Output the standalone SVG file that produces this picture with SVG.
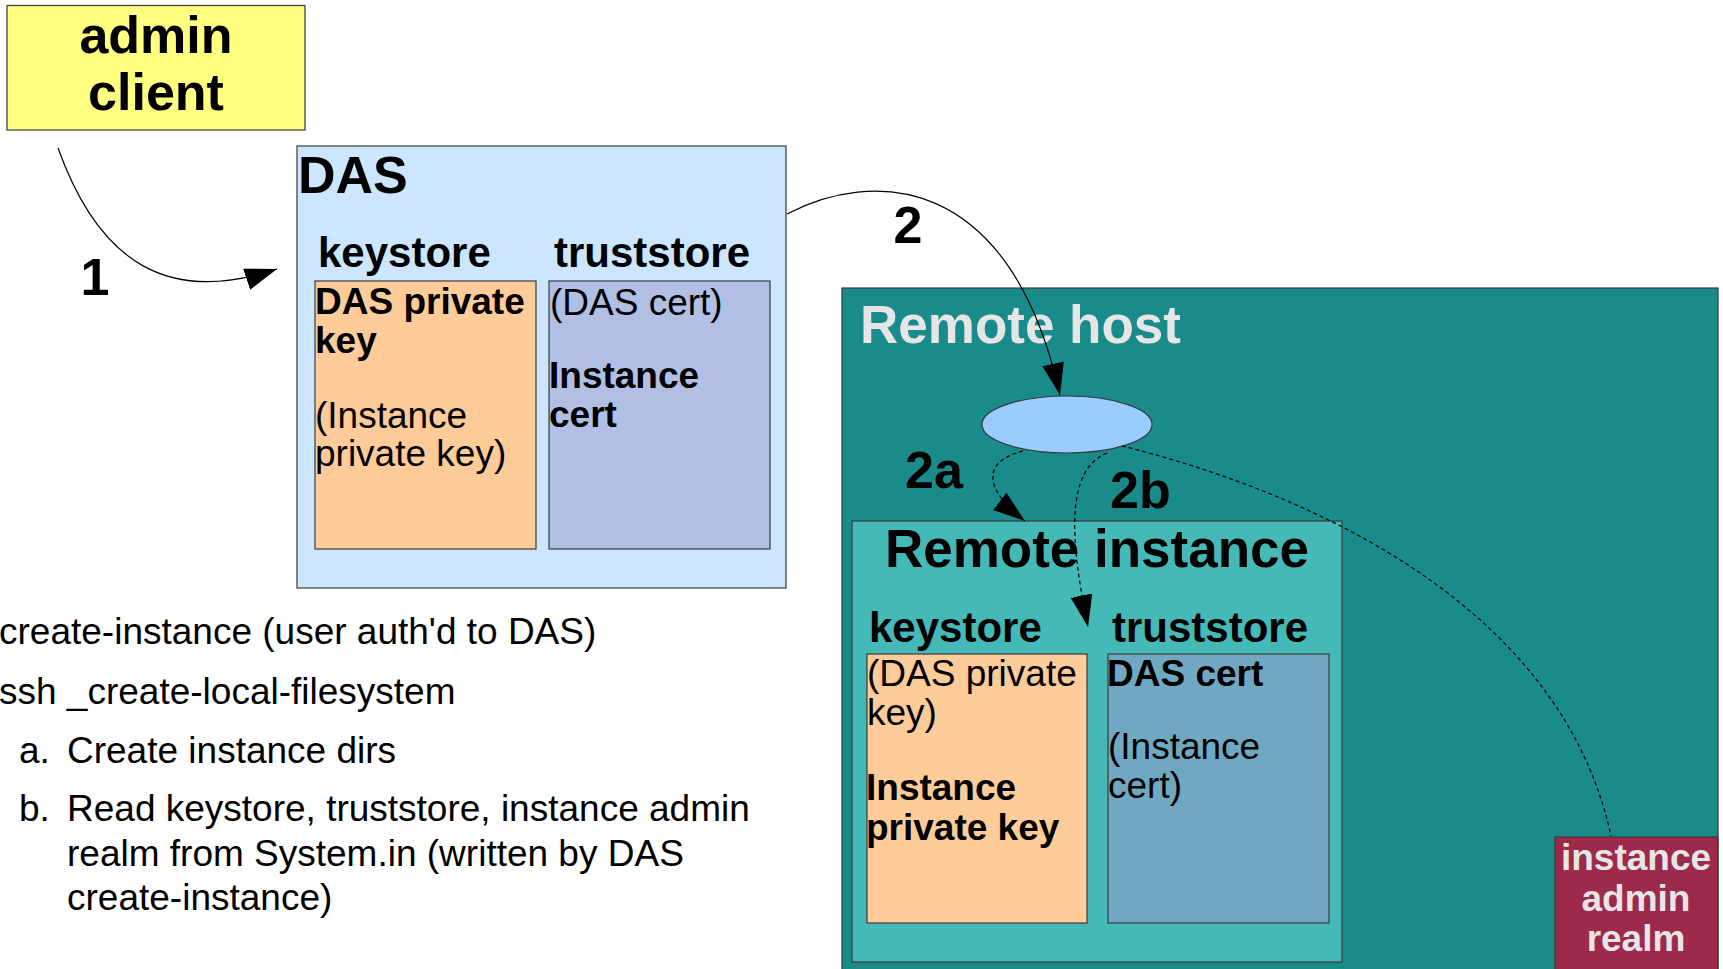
<svg xmlns="http://www.w3.org/2000/svg" width="1723" height="969" viewBox="0 0 1723 969">
  <defs>
    <marker id="arrow" markerUnits="userSpaceOnUse" markerWidth="32" markerHeight="22" refX="32" refY="11" orient="auto">
      <path d="M0,0 L32,11 L0,22 Z" fill="#000"/>
    </marker>
  </defs>
  <style>
    text { font-family: "Liberation Sans", Arial, sans-serif; fill: #000; }
    .b { font-weight: bold; }
    .title { font-size: 52px; font-weight: bold; }
    .big { font-size: 53px; font-weight: bold; }
    .store { font-size: 42px; font-weight: bold; }
    .body { font-size: 37px; }
    .light { fill: #e6e6e6; }
    .box { stroke: #3a3a3a; stroke-width: 1.2; }
    .conn { fill: none; stroke: #000; stroke-width: 1.2; }
    .dash { stroke-dasharray: 4 3; }
  </style>

  <!-- admin client -->
  <g id="admin-client">
    <rect class="box" x="7" y="5.5" width="298" height="124.5" fill="#ffff80"/>
    <text class="title" x="156" y="53" text-anchor="middle">admin</text>
    <text class="title" x="156" y="110" text-anchor="middle">client</text>
  </g>

  <!-- DAS with its keystore and truststore -->
  <g id="das">
    <rect class="box" x="297" y="146" width="489" height="442" fill="#cce6ff"/>
    <text class="title" x="298" y="193">DAS</text>
    <text class="store" x="318" y="267">keystore</text>
    <text class="store" x="554" y="267">truststore</text>
  </g>
  <g id="das-keystore">
    <rect class="box" x="315" y="281" width="221" height="268" fill="#ffcc99"/>
    <text class="body b" x="315" y="314">DAS private</text>
    <text class="body b" x="315" y="353">key</text>
    <text class="body" x="315" y="428">(Instance</text>
    <text class="body" x="315" y="466">private key)</text>
  </g>
  <g id="das-truststore">
    <rect class="box" x="549" y="281" width="221" height="268" fill="#b0bfe3"/>
    <text class="body" x="550" y="315">(DAS cert)</text>
    <text class="body b" x="549" y="388">Instance</text>
    <text class="body b" x="549" y="427">cert</text>
  </g>

  <!-- remote host -->
  <g id="remote-host">
    <rect class="box" x="842" y="288" width="876" height="700" fill="#198b8a"/>
    <text class="big light" x="860" y="343">Remote host</text>
  </g>
  <g id="ssh-process">
    <ellipse class="box" cx="1067" cy="424.5" rx="85" ry="28.5" fill="#99ccff"/>
  </g>
  <g id="remote-instance">
    <rect class="box" x="852" y="521" width="490" height="441" fill="#45b9b7"/>
    <text class="big" x="1097" y="567" text-anchor="middle">Remote instance</text>
    <text class="store" x="869" y="642">keystore</text>
    <text class="store" x="1112" y="642">truststore</text>
  </g>
  <g id="instance-keystore">
    <rect class="box" x="867" y="654" width="220" height="269" fill="#ffcc99"/>
    <text class="body" x="867" y="686">(DAS private</text>
    <text class="body" x="867" y="725">key)</text>
    <text class="body b" x="866" y="800">Instance</text>
    <text class="body b" x="866" y="840">private key</text>
  </g>
  <g id="instance-truststore">
    <rect class="box" x="1108" y="654" width="221" height="269" fill="#70a8c2"/>
    <text class="body b" x="1107" y="686">DAS cert</text>
    <text class="body" x="1108" y="759">(Instance</text>
    <text class="body" x="1108" y="798">cert)</text>
  </g>
  <g id="instance-admin-realm">
    <rect class="box" x="1555" y="837" width="163" height="150" fill="#9e2a4b"/>
    <text class="body b light" x="1636" y="870" text-anchor="middle">instance</text>
    <text class="body b light" x="1636" y="911" text-anchor="middle">admin</text>
    <text class="body b light" x="1636" y="951" text-anchor="middle">realm</text>
  </g>

  <!-- connectors -->
  <g id="connectors">
    <path class="conn" d="M58,148 C100,265 170,305 277,269" marker-end="url(#arrow)"/>
    <path class="conn" d="M787,214 C870,170 1010,170 1060,395" marker-end="url(#arrow)"/>
    <path class="conn dash" d="M1023,451 C980,462 985,490 1025,521" marker-end="url(#arrow)"/>
    <path class="conn dash" d="M1107,453 C1065,470 1070,540 1088,627" marker-end="url(#arrow)"/>
    <path class="conn dash" d="M1122,446 C1300,490 1560,600 1611,836"/>
  </g>

  <!-- step labels -->
  <g id="labels">
    <text class="title" x="95" y="295" text-anchor="middle">1</text>
    <text class="title" x="908" y="243" text-anchor="middle">2</text>
    <text class="title" x="905" y="488">2a</text>
    <text class="title" x="1110" y="508">2b</text>
  </g>

  <!-- step descriptions -->
  <g id="steps">
    <text class="body" x="-1" y="644">create-instance (user auth'd to DAS)</text>
    <text class="body" x="-1" y="704">ssh _create-local-filesystem</text>
    <text class="body" x="19" y="763">a.</text>
    <text class="body" x="67" y="763">Create instance dirs</text>
    <text class="body" x="19" y="821">b.</text>
    <text class="body" x="67" y="821">Read keystore, truststore, instance admin</text>
    <text class="body" x="67" y="866">realm from System.in (written by DAS</text>
    <text class="body" x="67" y="910">create-instance)</text>
  </g>
</svg>
